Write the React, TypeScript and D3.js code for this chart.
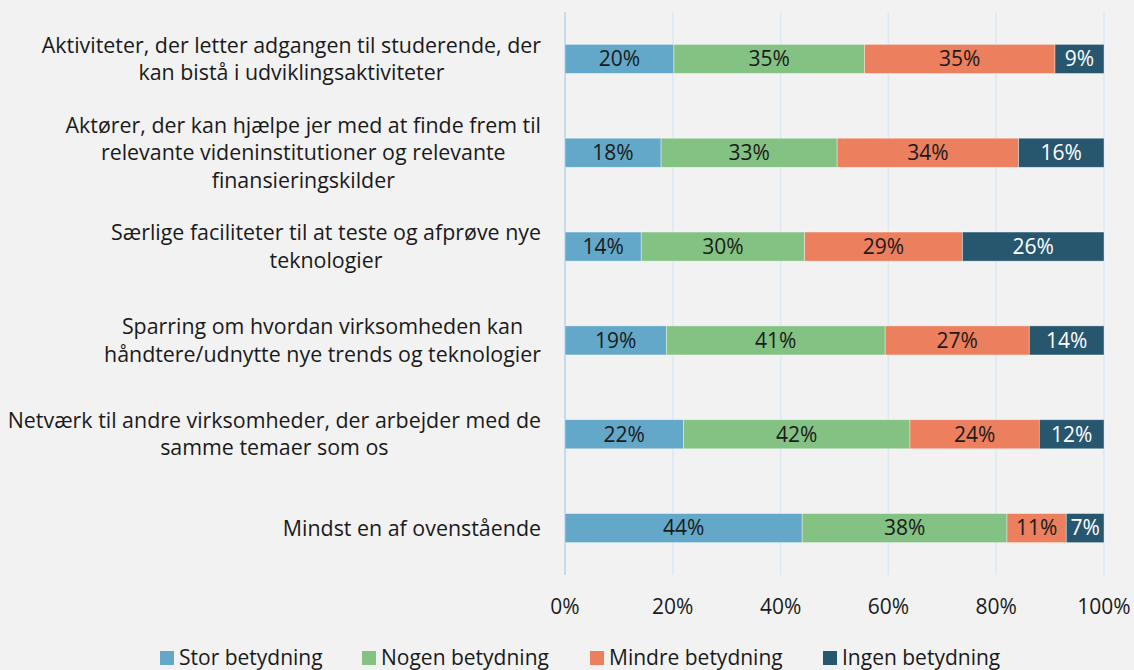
import React, { useEffect, useRef } from "react";
import * as d3 from "d3";

const categories = [
  ["Aktiviteter, der letter adgangen til studerende, der", "kan bistå i udviklingsaktiviteter"],
  ["Aktører, der kan hjælpe jer med at finde frem til", "relevante videninstitutioner og relevante", "finansieringskilder"],
  ["Særlige faciliteter til at teste og afprøve nye", "teknologier"],
  ["Sparring om hvordan virksomheden kan", "håndtere/udnytte nye trends og teknologier"],
  ["Netværk til andre virksomheder, der arbejder med de", "samme temaer som os"],
  ["Mindst en af ovenstående"],
];

const seriesNames = ["Stor betydning", "Nogen betydning", "Mindre betydning", "Ingen betydning"];
const stor = [20, 18, 14, 19, 22, 44];
const nogen = [35, 33, 30, 41, 42, 38];
const mindre = [35, 34, 29, 27, 24, 11];
const ingen = [9, 16, 26, 14, 12, 7];
const colors = ["#63a8c9", "#84c283", "#eb7f5e", "#27566f"];
const textColors = ["#1a1a1a", "#1a1a1a", "#1a1a1a", "#ffffff"];
const ticks = [0, 20, 40, 60, 80, 100];

const W = 1134;
const H = 670;
const FONT = "'Open Sans', sans-serif";
const FS = 21;

export default function App() {
  const ref = useRef<SVGSVGElement>(null);

  useEffect(() => {
    const svg = d3.select(ref.current);
    svg.selectAll("*").remove();

    const x = d3.scaleLinear().domain([0, 100]).range([565, 1104]);
    const y = d3
      .scaleBand<number>()
      .domain(d3.range(categories.length))
      .range([12, 575])
      .paddingInner(0.69)
      .paddingOuter(0.345);

    svg.append("rect").attr("width", W).attr("height", H).attr("fill", "#f2f2f2");

    // gridlines
    svg
      .append("g")
      .selectAll("line")
      .data(ticks)
      .enter()
      .append("line")
      .attr("x1", (d) => x(d))
      .attr("x2", (d) => x(d))
      .attr("y1", 12)
      .attr("y2", 575)
      .attr("stroke", (d) => (d === 0 ? "#c3dbeb" : "#dde9f2"))
      .attr("stroke-width", (d) => (d === 0 ? 2 : 1.5));

    const series = [stor, nogen, mindre, ingen];
    const rows = categories.map((_, i) => {
      const vals = series.map((s) => s[i]);
      const total = d3.sum(vals);
      let acc = 0;
      return vals.map((v, k) => {
        const x0 = (acc / total) * 100;
        acc += v;
        return { i, k, v, x0, x1: (acc / total) * 100 };
      });
    });
    const segs = rows.flat();

    const bars = svg.append("g");
    bars
      .selectAll("rect")
      .data(segs)
      .enter()
      .append("rect")
      .attr("x", (d) => x(d.x0))
      .attr("width", (d) => x(d.x1) - x(d.x0))
      .attr("y", (d) => y(d.i)!)
      .attr("height", y.bandwidth())
      .attr("fill", (d) => colors[d.k])
      .attr("stroke", "rgba(255,255,255,0.5)")
      .attr("stroke-width", 0.75);

    bars
      .selectAll("text")
      .data(segs)
      .enter()
      .append("text")
      .attr("x", (d) => (x(d.x0) + x(d.x1)) / 2)
      .attr("y", (d) => y(d.i)! + y.bandwidth() / 2)
      .attr("dy", "0.35em")
      .attr("text-anchor", "middle")
      .attr("font-family", FONT)
      .attr("font-size", FS)
      .attr("fill", (d) => textColors[d.k])
      .text((d) => d.v + "%");

    // category labels, centred lines in a right-aligned box
    const lineH = 27.5;
    categories.forEach((lines, i) => {
      const g = svg.append("g");
      const cy = y(i)! + y.bandwidth() / 2;
      const texts = g
        .selectAll("text")
        .data(lines)
        .enter()
        .append("text")
        .attr("y", (_, j) => cy + (j - (lines.length - 1) / 2) * lineH)
        .attr("dy", "0.35em")
        .attr("text-anchor", "middle")
        .attr("font-family", FONT)
        .attr("font-size", 21.4)
        .attr("fill", "#1a1a1a")
        .text((d) => d);
      let maxW = 0;
      texts.each(function () {
        maxW = Math.max(maxW, (this as SVGTextElement).getComputedTextLength());
      });
      texts.attr("x", 541 - maxW / 2);
    });

    // x tick labels
    svg
      .append("g")
      .selectAll("text")
      .data(ticks)
      .enter()
      .append("text")
      .attr("x", (d) => x(d))
      .attr("y", 607)
      .attr("dy", "0.35em")
      .attr("text-anchor", "middle")
      .attr("font-family", FONT)
      .attr("font-size", FS)
      .attr("fill", "#1a1a1a")
      .text((d) => d + "%");

    // legend
    const legendX = [160, 362, 590, 823];
    const lg = svg
      .append("g")
      .selectAll("g")
      .data(seriesNames)
      .enter()
      .append("g")
      .attr("transform", (_, k) => `translate(${legendX[k]},658)`);
    lg.append("rect")
      .attr("y", -7)
      .attr("width", 14)
      .attr("height", 14)
      .attr("fill", (_, k) => colors[k]);
    lg.append("text")
      .attr("x", 19)
      .attr("dy", "0.35em")
      .attr("font-family", FONT)
      .attr("font-size", FS)
      .attr("fill", "#1a1a1a")
      .text((d) => d);
  }, []);

  return (
    <svg
      ref={ref}
      width={W}
      height={H}
      style={{ position: "absolute", left: 0, top: 0, display: "block" }}
    />
  );
}
